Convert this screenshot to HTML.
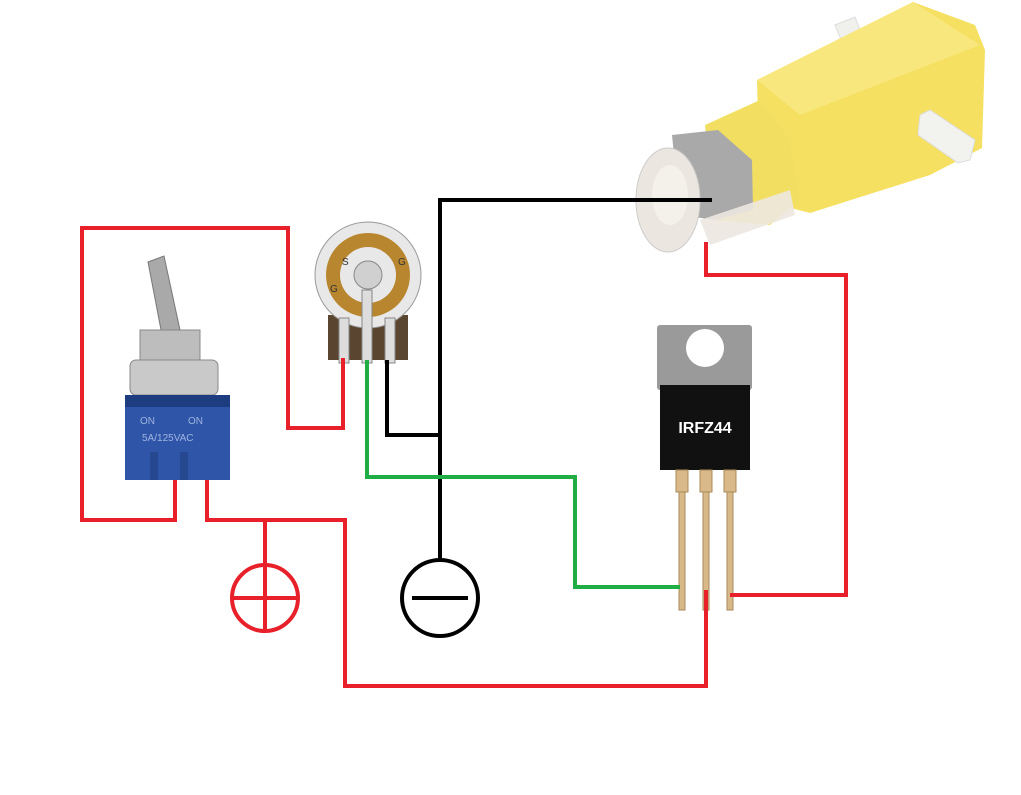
<!DOCTYPE html>
<html><head><meta charset="utf-8"><style>html,body{margin:0;padding:0;background:#fff}svg{display:block}</style></head><body>
<svg width="1021" height="795" viewBox="0 0 1021 795" xmlns="http://www.w3.org/2000/svg">
<rect width="1021" height="795" fill="#fff"/>
<!-- motor -->
<g>
<polygon points="835,25 855,17 862,35 842,42" fill="#f0f0ec" stroke="#ddd"/>
<polygon points="757,80 913,2 975,25 985,50 982,148 930,175 810,213 760,200" fill="#f5e061"/>
<polygon points="757,80 913,2 980,45 800,115" fill="#f7e77d"/>
<polygon points="920,115 930,110 975,140 970,160 958,163 918,135" fill="#f2f2ee" stroke="#ddd"/>
<polygon points="705,125 760,100 790,140 800,200 770,225 715,220" fill="#f2df62"/>
<polygon points="672,135 718,130 752,160 753,210 715,220 680,215" fill="#a9a9a9"/>
<ellipse cx="668" cy="200" rx="32" ry="52" fill="#ebe7e0" stroke="#ccc"/>
<ellipse cx="670" cy="195" rx="18" ry="30" fill="#f4f1ea"/>
<polygon points="700,220 790,190 795,215 710,245" fill="#ece8e0" opacity="0.9"/>
</g>
<!-- mosfet -->
<rect x="657" y="325" width="95" height="65" rx="3" fill="#9a9a9a"/>
<circle cx="705" cy="348" r="19" fill="#fff"/>
<rect x="660" y="385" width="90" height="85" fill="#111"/>
<text x="705" y="433" font-family="Liberation Sans, sans-serif" font-size="16" font-weight="bold" fill="#fff" text-anchor="middle">IRFZ44</text>
<g fill="#d9b98a" stroke="#a88a5a" stroke-width="1">
<rect x="676" y="470" width="12" height="22"/><rect x="700" y="470" width="12" height="22"/><rect x="724" y="470" width="12" height="22"/>
<rect x="679" y="492" width="6" height="118"/><rect x="703" y="492" width="6" height="118"/><rect x="727" y="492" width="6" height="118"/>
</g>
<!-- switch -->
<polygon points="148,262 164,256 180,330 162,335" fill="#a9a9a9" stroke="#777"/>
<rect x="140" y="330" width="60" height="30" fill="#bdbdbd" stroke="#888"/>
<rect x="130" y="360" width="88" height="35" rx="6" fill="#c9c9c9" stroke="#888"/>
<rect x="125" y="395" width="105" height="85" fill="#2f55a8"/>
<rect x="125" y="395" width="105" height="12" fill="#1d3d80"/>
<text x="140" y="424" font-family="Liberation Sans, sans-serif" font-size="10" fill="#9fb4e0">ON</text>
<text x="188" y="424" font-family="Liberation Sans, sans-serif" font-size="10" fill="#9fb4e0">ON</text>
<text x="142" y="441" font-family="Liberation Sans, sans-serif" font-size="10" fill="#9fb4e0">5A/125VAC</text>
<rect x="150" y="452" width="8" height="28" fill="#254890"/><rect x="180" y="452" width="8" height="28" fill="#254890"/>
<!-- pot -->
<rect x="328" y="315" width="80" height="45" fill="#5a4630"/>
<circle cx="368" cy="275" r="53" fill="#e8e8e8" stroke="#999"/>
<circle cx="368" cy="275" r="42" fill="#b8862e"/>
<circle cx="368" cy="275" r="28" fill="#e8e8e8"/>
<circle cx="368" cy="275" r="14" fill="#d0d0d0" stroke="#888"/>
<rect x="339" y="318" width="10" height="45" fill="#ddd" stroke="#888"/>
<rect x="362" y="290" width="10" height="73" fill="#ddd" stroke="#888"/>
<rect x="385" y="318" width="10" height="45" fill="#ddd" stroke="#888"/>
<text x="330" y="292" font-family="Liberation Sans, sans-serif" font-size="10" fill="#333">G</text>
<text x="398" y="265" font-family="Liberation Sans, sans-serif" font-size="10" fill="#333">G</text>
<text x="342" y="265" font-family="Liberation Sans, sans-serif" font-size="10" fill="#333">S</text>
<!-- wires -->
<g fill="none" stroke-width="4" stroke-linejoin="miter">
<polyline stroke="#e8202a" points="343,358 343,428 288,428 288,228 82,228 82,520 175,520 175,480"/>
<polyline stroke="#e8202a" points="207,480 207,520 345,520 345,686 706,686 706,590"/>
<polyline stroke="#e8202a" points="265,520 265,565"/>
<circle cx="265" cy="598" r="33" stroke="#e8202a"/>
<line x1="232" y1="598" x2="298" y2="598" stroke="#e8202a"/>
<line x1="265" y1="565" x2="265" y2="631" stroke="#e8202a"/>
<polyline stroke="#e8202a" points="706,242 706,275 846,275 846,595 730,595"/>
<polyline stroke="#000" points="712,200 440,200 440,560"/>
<polyline stroke="#000" points="387,360 387,435 440,435"/>
<circle cx="440" cy="598" r="38" stroke="#000"/>
<line x1="412" y1="598" x2="468" y2="598" stroke="#000"/>
<polyline stroke="#1fae44" points="367,360 367,477 575,477 575,587 680,587"/>
</g>
</svg>
</body></html>
